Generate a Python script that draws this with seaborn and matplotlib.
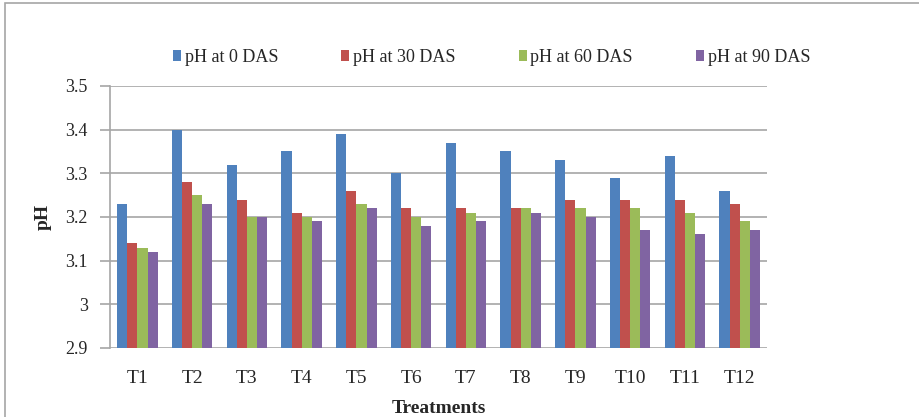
import matplotlib
matplotlib.use("Agg")
import matplotlib.pyplot as plt
import seaborn as sns
import pandas as pd
from matplotlib.patches import Rectangle

treatments = ["T1", "T2", "T3", "T4", "T5", "T6", "T7", "T8", "T9", "T10", "T11", "T12"]
series_names = ["pH at 0 DAS", "pH at 30 DAS", "pH at 60 DAS", "pH at 90 DAS"]
ph_0 = [3.23, 3.40, 3.32, 3.35, 3.39, 3.30, 3.37, 3.35, 3.33, 3.29, 3.34, 3.26]
ph_30 = [3.14, 3.28, 3.24, 3.21, 3.26, 3.22, 3.22, 3.22, 3.24, 3.24, 3.24, 3.23]
ph_60 = [3.13, 3.25, 3.20, 3.20, 3.23, 3.20, 3.21, 3.22, 3.22, 3.22, 3.21, 3.19]
ph_90 = [3.12, 3.23, 3.20, 3.19, 3.22, 3.18, 3.19, 3.21, 3.20, 3.17, 3.16, 3.17]
y_ticks = [2.9, 3.0, 3.1, 3.2, 3.3, 3.4, 3.5]
y_tick_labels = ["2.9", "3", "3.1", "3.2", "3.3", "3.4", "3.5"]

colors = ["#4F81BD", "#C0504D", "#9BBB59", "#8064A2"]

rows = []
for name, vals in zip(series_names, [ph_0, ph_30, ph_60, ph_90]):
    for t, v in zip(treatments, vals):
        rows.append({"Treatment": t, "Series": name, "pH": v})
df = pd.DataFrame(rows)

sns.set_theme(style="white")
plt.rcParams["font.family"] = ["Liberation Serif", "DejaVu Serif"]

fig = plt.figure(figsize=(9.19, 4.17), dpi=100)
ax = fig.add_axes([0.1197, 0.1655, 0.715, 0.6283])

sns.barplot(data=df, x="Treatment", y="pH", hue="Series", order=treatments,
            hue_order=series_names, palette=colors, width=0.74, saturation=1,
            ax=ax, legend=False, errorbar=None, edgecolor="none", linewidth=0)

ax.set_ylim(2.9, 3.5)
ax.set_yticks(y_ticks)
ax.set_yticklabels(y_tick_labels, fontsize=13)
ax.tick_params(axis="x", labelsize=14, length=0, pad=16)
ax.tick_params(axis="y", length=7, width=1.2, color="#a6a6a6", direction="out", left=True, pad=9)
ax.set_axisbelow(True)
ax.yaxis.grid(True, color="#a6a6a6", linewidth=1.2)
ax.xaxis.grid(False)
for side in ["top", "right", "bottom"]:
    ax.spines[side].set_visible(False)
ax.spines["left"].set_color("#a6a6a6")
ax.spines["left"].set_linewidth(1.2)

ax.set_xlabel("Treatments", fontsize=14, fontweight="bold", labelpad=9)
ax.set_ylabel("pH", fontsize=14, fontweight="bold", labelpad=10)

handles = [Rectangle((0, 0), 1, 1, facecolor=c, edgecolor="none") for c in colors]
fig.legend(handles, series_names, loc="center", bbox_to_anchor=(0.535, 0.862), ncol=4,
           frameon=False, fontsize=13, handlelength=0.45, handleheight=0.6,
           handletextpad=0.2, columnspacing=3.5)

# light frame around the chart area
fig.patches.append(Rectangle((5 / 919, -0.05), 1.05, 1.05 - 3 / 417,
                             transform=fig.transFigure, fill=False,
                             edgecolor="#a6a6a6", linewidth=1.2))

fig.savefig("out.png", dpi=100)
